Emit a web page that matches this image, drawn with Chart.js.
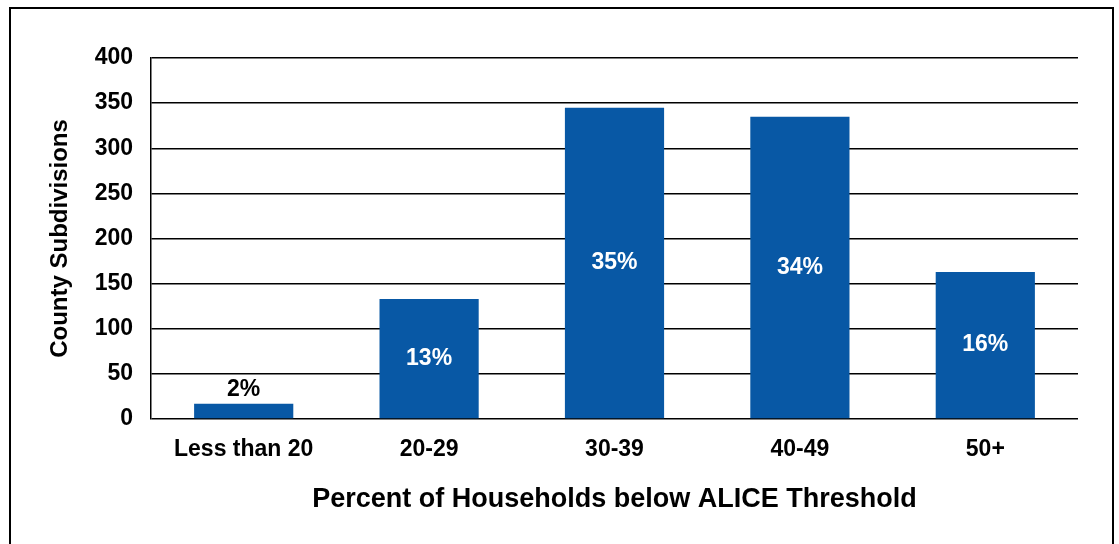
<!DOCTYPE html>
<html>
<head>
<meta charset="utf-8">
<script src="https://cdn.jsdelivr.net/npm/chart.js@4"></script>
<style>
  html, body { margin: 0; padding: 0; background: #fff; }
  #wrap { position: relative; width: 1119px; height: 544px; overflow: hidden; }
  #frame {
    position: absolute; left: 9px; top: 7px; width: 1101px; height: 560px;
    border: 2px solid #000; pointer-events: none;
  }
  canvas { position: absolute; left: 0; top: 0; }
</style>
</head>
<body>
<div id="wrap">
  <canvas id="chart" width="1119" height="544"></canvas>
  <div id="frame"></div>
</div>
<script>
// ALICE household share by county subdivision
const categories = ['Less than 20', '20-29', '30-39', '40-49', '50+'];
const subdivisions = [17, 133, 345, 335, 163];
const shareLabels = ['2%', '13%', '35%', '34%', '16%'];

const barBlue = '#0858a5';
const fontFamily = "'Liberation Sans', Arial, sans-serif";

// Share labels: white and centred inside tall bars, black above short ones
const barLabels = {
    id: 'barLabels',
    afterDatasetsDraw(chart) {
        const { ctx } = chart;
        const meta = chart.getDatasetMeta(0);
        ctx.save();
        ctx.font = 'bold 23px ' + fontFamily;
        ctx.textAlign = 'center';
        ctx.textBaseline = 'middle';
        meta.data.forEach((bar, i) => {
            const h = bar.base - bar.y;
            if (h > 40) {
                ctx.fillStyle = '#fff';
                ctx.fillText(shareLabels[i], bar.x, bar.y + h / 2);
            } else {
                ctx.fillStyle = '#000';
                ctx.fillText(shareLabels[i], bar.x, bar.y - 14);
            }
        });
        ctx.restore();
    }
};

new Chart(document.getElementById('chart'), {
    type: 'bar',
    data: {
        labels: categories,
        datasets: [{
            data: subdivisions,
            backgroundColor: barBlue,
            borderWidth: 0,
            barPercentage: 0.535,
            categoryPercentage: 1.0
        }]
    },
    options: {
        responsive: false,
        animation: false,
        layout: { padding: { left: 40, right: 41, top: 58, bottom: 0 } },
        plugins: { legend: { display: false }, tooltip: { enabled: false } },
        scales: {
            x: {
                grid: { display: false },
                border: { display: false },
                ticks: { color: '#000', padding: 9, font: { family: fontFamily, size: 23, weight: 'bold' } },
                title: {
                    display: true,
                    text: 'Percent of Households below ALICE Threshold',
                    color: '#000',
                    font: { family: fontFamily, size: 27, weight: 'bold' },
                    padding: { top: 0, bottom: 28 }
                },
                afterFit: s => { s.height = 125; }
            },
            y: {
                min: 0,
                max: 400,
                ticks: { stepSize: 50, color: '#000', padding: 18, font: { family: fontFamily, size: 23, weight: 'bold' } },
                grid: { color: '#000', lineWidth: 1.5, drawTicks: false },
                border: { display: true, color: '#000', width: 1.5 },
                title: {
                    display: true,
                    text: 'County Subdivisions',
                    color: '#000',
                    font: { family: fontFamily, size: 24, weight: 'bold' },
                    padding: { top: 6, bottom: 0 }
                },
                afterFit: s => { s.width = 111; }
            }
        }
    },
    plugins: [barLabels]
});
</script>
</body>
</html>
